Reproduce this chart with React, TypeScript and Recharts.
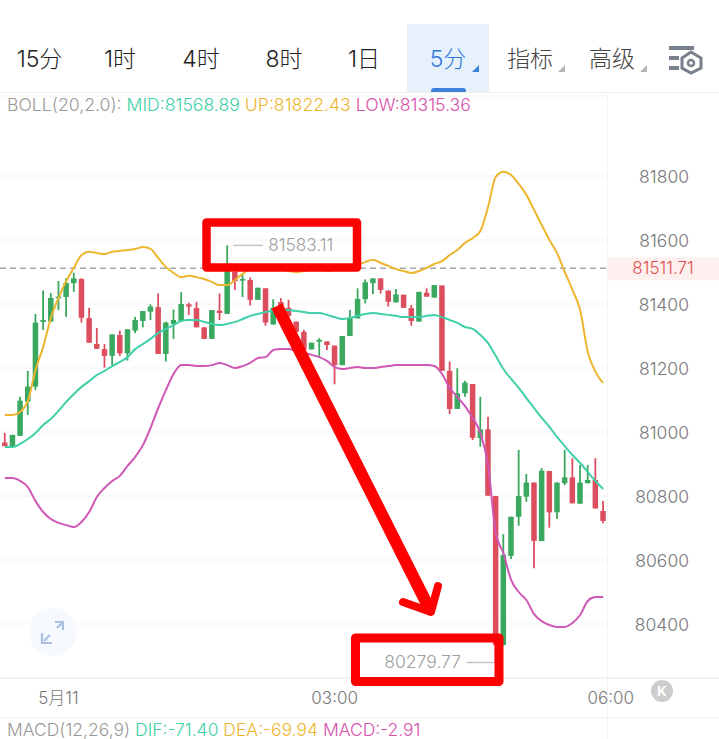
import { Bar, CartesianGrid, ComposedChart, Line, ReferenceLine, XAxis, YAxis } from 'recharts'

const opens = [
  80967, 80956, 80988, 81095, 81142, 81344, 81345, 81418, 81422, 81465,
  81478, 81356, 81275, 81259, 81238, 81303, 81246, 81317, 81347, 81376,
  81390, 81244, 81338, 81347, 81399, 81387, 81327, 81291, 81379, 81369,
  81500, 81473, 81475, 81413, 81449, 81336, 81406, 81388, 81345, 81313,
  81258, 81282, 81283, 81270, 81209, 81300, 81355, 81415, 81465, 81480,
  81442, 81405, 81429, 81387, 81345, 81435, 81420, 81458, 81191, 81072,
  81121, 81150, 80981, 81008, 80800, 80334, 80613, 80735, 80798, 80842,
  80659, 80878, 80749, 80840, 80858, 80776, 80840, 80850, 80753,
]
const highs = [
  80997, 80991, 81110, 81191, 81369, 81442, 81434, 81472, 81481, 81498,
  81481, 81388, 81325, 81275, 81305, 81317, 81321, 81360, 81378, 81399,
  81433, 81345, 81383, 81437, 81404, 81407, 81327, 81381, 81433, 81583.11,
  81506, 81491, 81483, 81451, 81449, 81415, 81418, 81413, 81345, 81319,
  81279, 81293, 81283, 81270, 81300, 81381, 81449, 81477, 81480, 81480,
  81442, 81447, 81429, 81397, 81438, 81449, 81459, 81458, 81220, 81199,
  81160, 81150, 81110, 81048, 80800, 80681, 80735, 80944, 80869, 80842,
  80887, 80878, 80842, 80944, 80918, 80897, 80897, 80918, 80784,
]
const lows = [
  80956, 80956, 80988, 81053, 81131, 81319, 81345, 81381, 81360, 81438,
  81342, 81279, 81260, 81201, 81209, 81238, 81223, 81309, 81327, 81350,
  81244, 81220, 81291, 81347, 81366, 81327, 81291, 81291, 81350, 81369,
  81444, 81422, 81395, 81413, 81332, 81336, 81375, 81356, 81313, 81258,
  81258, 81235, 81256, 81149, 81209, 81300, 81355, 81402, 81431, 81433,
  81392, 81405, 81388, 81332, 81345, 81423, 81420, 81191, 81056, 81072,
  81110, 80975, 80954, 80801, 80279.77, 80334, 80603, 80707, 80782, 80574,
  80659, 80701, 80728, 80834, 80777, 80776, 80840, 80761, 80715,
]
const closes = [
  80956, 80991, 81098, 81142, 81342, 81350, 81419, 81423, 81466, 81480,
  81357, 81279, 81260, 81238, 81305, 81246, 81321, 81350, 81378, 81392,
  81244, 81342, 81350, 81400, 81392, 81327, 81291, 81381, 81372, 81512,
  81472, 81478, 81413, 81451, 81342, 81388, 81381, 81363, 81313, 81258,
  81279, 81288, 81272, 81209, 81300, 81358, 81416, 81468, 81480, 81444,
  81407, 81430, 81388, 81347, 81438, 81423, 81459, 81191, 81072, 81121,
  81154, 80982, 81008, 80801, 80334, 80616, 80735, 80800, 80842, 80660,
  80879, 80749, 80842, 80858, 80777, 80842, 80850, 80761, 80722,
]
const mid = [
  80953, 80953, 80963, 80978, 80997, 81022, 81041, 81066, 81094, 81119,
  81141, 81159, 81178, 81191, 81206, 81219, 81234, 81259, 81275, 81291,
  81309, 81322, 81334, 81347, 81350, 81350, 81344, 81338, 81334, 81338,
  81344, 81353, 81363, 81369, 81375, 81378, 81381, 81381, 81378, 81375,
  81372, 81372, 81366, 81359, 81353, 81356, 81363, 81369, 81372, 81369,
  81366, 81363, 81359, 81359, 81359, 81363, 81366, 81359, 81350, 81341,
  81328, 81322, 81303, 81278, 81238, 81197, 81166, 81138, 81106, 81075,
  81044, 81016, 80984, 80956, 80928, 80903, 80875, 80847, 80822,
]
const up = [
  81053, 81053, 81063, 81097, 81194, 81266, 81356, 81419, 81472, 81513,
  81553, 81563, 81559, 81556, 81563, 81566, 81569, 81572, 81578, 81572,
  81544, 81516, 81497, 81484, 81488, 81484, 81478, 81469, 81459, 81459,
  81475, 81494, 81509, 81516, 81516, 81513, 81506, 81503, 81500, 81503,
  81506, 81506, 81503, 81506, 81509, 81516, 81522, 81531, 81538, 81528,
  81519, 81509, 81503, 81497, 81503, 81513, 81525, 81534, 81553, 81569,
  81591, 81606, 81628, 81703, 81797, 81813, 81803, 81775, 81741, 81694,
  81647, 81600, 81559, 81500, 81444, 81381, 81250, 81188, 81153,
]
const low = [
  80856, 80856, 80847, 80828, 80784, 80750, 80728, 80716, 80709, 80703,
  80719, 80750, 80797, 80825, 80847, 80863, 80894, 80922, 80959, 81013,
  81075, 81131, 81181, 81209, 81209, 81206, 81206, 81209, 81216, 81209,
  81200, 81206, 81216, 81231, 81234, 81256, 81259, 81259, 81253, 81247,
  81241, 81234, 81222, 81203, 81197, 81200, 81203, 81200, 81200, 81203,
  81206, 81209, 81209, 81209, 81209, 81209, 81206, 81181, 81138, 81109,
  81081, 81044, 80997, 80897, 80684, 80622, 80538, 80500, 80475, 80431,
  80409, 80397, 80391, 80391, 80403, 80428, 80472, 80484, 80484,
]

const tabs = ['15分', '1时', '4时', '8时', '1日']
const tabCenters = [39.5, 120, 201, 284, 364]
const priceTicks = [80400, 80600, 80800, 81000, 81200, 81400, 81600, 81800]
const timeTicks = ['00:00', '03:00', '06:00']
const timeLabels: Record<string, string> = { '00:00': '5月11', '03:00': '03:00', '06:00': '06:00' }
const lastPrice = 81511.71
const highPrice = 81583.11
const lowPrice = 80279.77

const FONT = 'Inter, "Noto Sans CJK SC", sans-serif'
const UP_COLOR = '#3aa85f'
const DOWN_COLOR = '#dc4d5e'
const MID_COLOR = '#3fcfa9'
const UP_LINE = '#eeb52f'
const LOW_LINE = '#cf57b6'
const GRID = '#f3f3f3'

// 23:25 is the first candle, the rest of the axis is empty space for the price labels
const times = Array.from({ length: 94 }, (_, i) => {
  const minutes = (23 * 60 + 25 + i * 5) % (24 * 60)
  return `${String(Math.floor(minutes / 60)).padStart(2, '0')}:${String(minutes % 60).padStart(2, '0')}`
})

const rows = times.map((time, i) => ({
  time,
  open: opens[i],
  high: highs[i],
  low: lows[i],
  close: closes[i],
  mid: mid[i],
  up: up[i],
  lower: low[i],
}))

const Candle = (props: any) => {
  const { x, y, width, height, payload } = props
  if (payload.high === undefined) return null
  const h = Math.abs(height)
  const perUnit = h / (payload.high - payload.low)
  const cx = x + width / 2
  const rising = payload.close >= payload.open
  const color = rising ? UP_COLOR : DOWN_COLOR
  const top = y + (payload.high - Math.max(payload.open, payload.close)) * perUnit
  const bodyH = Math.max(Math.abs(payload.close - payload.open) * perUnit, 1.5)
  return (
    <g>
      <line x1={cx} x2={cx} y1={y} y2={y + h} stroke={color} strokeWidth={1.8} />
      <rect x={x} y={top} width={width} height={bodyH} fill={color} />
      {payload.high === highPrice && (
        <g>
          <line x1={cx + 6} x2={cx + 36} y1={y} y2={y} stroke="#c4c4c4" strokeWidth={1.5} />
          <text x={cx + 41} y={y + 6} fontSize={17.3} fontWeight={300} fill="#a0a0a0" fontFamily={FONT}>{highPrice}</text>
        </g>
      )}
      {payload.low === lowPrice && (
        <g>
          <line x1={cx - 29} x2={cx - 1} y1={y + h} y2={y + h} stroke="#c4c4c4" strokeWidth={1.5} />
          <text x={cx - 34.5} y={y + h + 6} fontSize={17.6} fontWeight={300} fill="#a0a0a0" textAnchor="end" fontFamily={FONT}>{lowPrice}</text>
        </g>
      )}
    </g>
  )
}

const LastPrice = (props: any) => (
  <g>
    <line x1={0} x2={606} y1={props.y1} y2={props.y1} stroke="#a8a8a8" strokeWidth={1.5} strokeDasharray="6 4" />
    <rect x={607} y={props.y1 - 11} width={112} height={23} fill="#fdf0ef" />
    <text x={663} y={props.y1 + 6} fontSize={17} fontWeight={300} fill="#e0514f" textAnchor="middle" fontFamily={FONT}>{lastPrice}</text>
  </g>
)

const App = () => (
  <div style={{ position: 'absolute', left: 0, top: 0, width: 719, height: 739, overflow: 'hidden', background: '#fff', fontFamily: FONT }}>
    <div style={{ position: 'absolute', left: 407, top: 24, width: 82, height: 68, background: '#e7f1fc' }} />
    <div style={{ position: 'absolute', left: 431, top: 88, width: 35, height: 4, background: '#3c82dc', borderRadius: '3px 3px 0 0' }} />
    {tabs.map((tab, i) => (
      <div key={tab} style={{ position: 'absolute', left: tabCenters[i] - 40, width: 80, top: 44, lineHeight: '30px', textAlign: 'center', fontSize: 23, fontWeight: 300, color: '#222' }}>{tab}</div>
    ))}
    <div style={{ position: 'absolute', left: 408, width: 80, top: 44, lineHeight: '30px', textAlign: 'center', fontSize: 23, fontWeight: 300, color: '#2f78dc' }}>5分</div>
    <div style={{ position: 'absolute', left: 507, top: 44, lineHeight: '30px', fontSize: 23, fontWeight: 300, color: '#444' }}>指标</div>
    <div style={{ position: 'absolute', left: 589, top: 44, lineHeight: '30px', fontSize: 23, fontWeight: 300, color: '#444' }}>高级</div>
    <svg width={719} height={100} style={{ position: 'absolute', left: 0, top: 0 }}>
      <path d="M472 72 L479 72 L479 65 Z" fill="#3c82dc" />
      <path d="M558 72 L565 72 L565 65 Z" fill="#b5b5b5" />
      <path d="M640 72 L647 72 L647 65 Z" fill="#b5b5b5" />
      <rect x={669} y={46} width={25} height={4} fill="#77808c" />
      <rect x={669} y={56} width={10} height={4} fill="#77808c" />
      <rect x={669} y={66} width={10} height={4} fill="#77808c" />
      <path d="M691 52 L701 58 L701 68 L691 73 L682 68 L682 58 Z" fill="none" stroke="#77808c" strokeWidth={3} />
      <circle cx={691} cy={63} r={3} fill="none" stroke="#77808c" strokeWidth={2.5} />
    </svg>
    <div style={{ position: 'absolute', left: 0, top: 92, width: 719, height: 1, background: '#f1f1f1' }} />
    <div style={{ position: 'absolute', left: 607, top: 92, width: 1, height: 647, background: '#f3f3f3' }} />
    <div style={{ position: 'absolute', left: 0, top: 717, width: 719, height: 1, background: '#f1f1f1' }} />

    <ComposedChart
      width={722}
      height={739}
      data={rows}
      margin={{ top: 96, right: 0, bottom: 0, left: 1 }}
      style={{ position: 'absolute', left: 0, top: 0 }}
    >
      <CartesianGrid
        vertical={false}
        horizontal={(p: any) => <line key={p.key} x1={0} x2={607} y1={p.y1} y2={p.y2} stroke={GRID} />}
      />
      <XAxis
        dataKey="time"
        ticks={timeTicks}
        interval={0}
        height={61}
        tickLine={false}
        axisLine={{ stroke: '#eeeeee', strokeWidth: 1.5 }}
        tickFormatter={(t) => timeLabels[t] ?? ''}
        tick={{ fontSize: 17, fontWeight: 300, fill: '#777777', fontFamily: FONT }}
        tickMargin={8}
      />
      <YAxis
        orientation="right"
        mirror
        type="number"
        domain={[80231.25, 82050]}
        ticks={priceTicks}
        tickLine={false}
        axisLine={false}
        tickMargin={27}
        tick={{ fontSize: 17.5, fontWeight: 300, fill: '#777777', fontFamily: FONT, dy: 1 }}
      />
      <ReferenceLine y={lastPrice} shape={LastPrice} />
      <Bar dataKey={(d: any) => (d.high === undefined ? null : [d.low, d.high])} barSize={5.5} shape={Candle} isAnimationActive={false} />
      <Line dataKey="mid" type="monotone" stroke={MID_COLOR} strokeWidth={2} dot={false} isAnimationActive={false} />
      <Line dataKey="up" type="monotone" stroke={UP_LINE} strokeWidth={2} dot={false} isAnimationActive={false} />
      <Line dataKey="lower" type="monotone" stroke={LOW_LINE} strokeWidth={2} dot={false} isAnimationActive={false} />
    </ComposedChart>

    <div style={{ position: 'absolute', left: 7, top: 94, lineHeight: '22px', fontSize: 17.65, fontWeight: 300, whiteSpace: 'nowrap', color: '#999999' }}>
      BOLL(20,2.0): <span style={{ color: '#3fcfa9' }}>MID:81568.89</span> <span style={{ color: '#eeb52f' }}>UP:81822.43</span> <span style={{ color: '#d552ab' }}>LOW:81315.36</span>
    </div>
    <div style={{ position: 'absolute', left: 7, top: 721, lineHeight: '18px', fontSize: 17.5, fontWeight: 300, whiteSpace: 'nowrap', color: '#999999' }}>
      MACD(12,26,9) <span style={{ color: '#3fcfa9' }}>DIF:-71.40</span> <span style={{ color: '#eeb52f' }}>DEA:-69.94</span> <span style={{ color: '#d552ab' }}>MACD:-2.91</span>
    </div>

    <svg width={719} height={739} style={{ position: 'absolute', left: 0, top: 0 }}>
      <circle cx={53} cy={632} r={24} fill="#f6f9fe" />
      <path d="M44 641 L50 635 M57 628 L63 622 M55 622 L63 622 L63 630 M42 633 L42 643 L52 643" fill="none" stroke="#a9c0e4" strokeWidth={2.2} />
      <circle cx={662} cy={691} r={11} fill="#cdcdcd" />
      <text x={662} y={696} fontSize={13} fontWeight={700} fill="#fff" textAnchor="middle" fontFamily={FONT}>K</text>
      <rect x={206.5} y={222.5} width={150.5} height={45} fill="none" stroke="#ff0000" strokeWidth={8.5} strokeLinejoin="round" />
      <rect x={355.5} y={638} width={143.5} height={43.5} fill="none" stroke="#ff0000" strokeWidth={9} strokeLinejoin="round" />
      <path d="M277 306 L430 610" fill="none" stroke="#ff0000" strokeWidth={12} />
      <path d="M403 602 L431 612 L438 586" fill="none" stroke="#ff0000" strokeWidth={8} strokeLinejoin="round" strokeLinecap="round" />
    </svg>
  </div>
)

export default App
